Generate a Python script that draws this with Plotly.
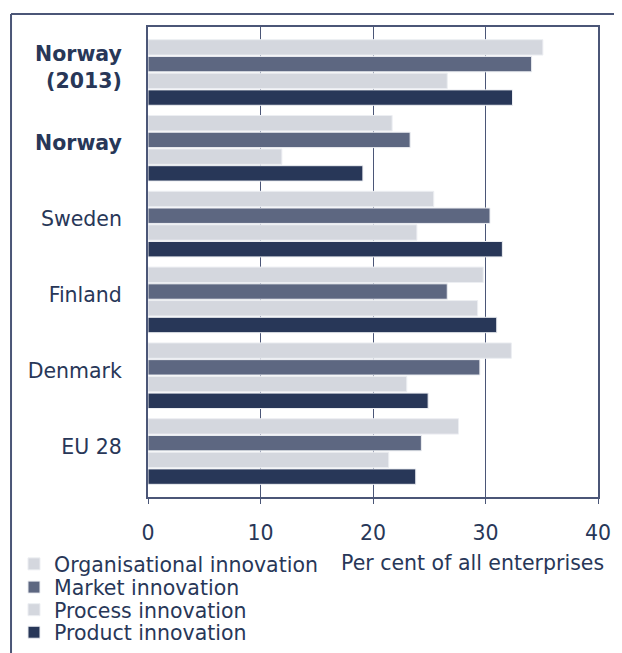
import plotly.graph_objects as go

# landen / groepen, van boven naar beneden
landen = ["<b>Norway<br>(2013)</b>", "<b>Norway</b>", "Sweden", "Finland", "Denmark", "EU 28"]

organisational = [35.1, 21.7, 25.4, 29.8, 32.3, 27.6]
market = [34.1, 23.3, 30.4, 26.6, 29.5, 24.3]
process = [26.6, 11.9, 23.9, 29.3, 23.0, 21.4]
product = [32.4, 19.1, 31.5, 31.0, 24.9, 23.8]

x_ticks = [0, 10, 20, 30, 40]

DONKER = '#283758'
LIJN = '#4b5677'
FONT = 'DejaVu Sans'
FSIZE = 20.5

fig = go.Figure()

series = [
    ('Organisational innovation', organisational, '#d4d7de', 'legend'),
    ('Market innovation', market, '#5d6781', 'legend2'),
    ('Process innovation', process, '#d4d7de', 'legend3'),
    ('Product innovation', product, DONKER, 'legend4'),
]

for naam, waarden, kleur, leg in series:
    fig.add_trace(
        go.Bar(
            y=landen,
            x=waarden,
            orientation='h',
            name=naam,
            legend=leg,
            marker=dict(color=kleur, line=dict(color='#eceef2', width=1)),
        )
    )

# elke legenda-regel apart, zodat de regelafstand klopt
leg_x = -0.2978
leg_y = [-0.1426, -0.1921, -0.2401, -0.2881]
leg_style = dict(
    x=leg_x, xanchor='left', yanchor='middle',
    font=dict(size=FSIZE, color=DONKER, family=FONT),
    bgcolor='rgba(0,0,0,0)', borderwidth=0, itemwidth=30,
)

fig.update_layout(
    width=622,
    height=653,
    barmode='group',
    bargap=0.117,
    bargroupgap=0.08,
    plot_bgcolor='white',
    paper_bgcolor='white',
    font=dict(family=FONT, size=FSIZE, color=DONKER),
    margin=dict(t=19, r=32, b=164, l=140, autoexpand=False),
    showlegend=True,
    legend=dict(y=leg_y[0], **leg_style),
    legend2=dict(y=leg_y[1], **leg_style),
    legend3=dict(y=leg_y[2], **leg_style),
    legend4=dict(y=leg_y[3], **leg_style),
)

fig.update_xaxes(
    range=[0, 40],
    tickvals=x_ticks,
    showgrid=True,
    gridcolor=LIJN,
    gridwidth=1.2,
    showline=True,
    linecolor=LIJN,
    linewidth=2,
    mirror=True,
    ticks='outside',
    ticklen=5,
    tickcolor=LIJN,
    ticklabelstandoff=11,
    zeroline=False,
)

fig.update_yaxes(
    range=[5.6, -0.6],
    showline=True,
    linecolor=LIJN,
    linewidth=2,
    mirror=True,
    ticks='',
    ticklabelstandoff=20,
    ticklabelshift=5,
    showgrid=False,
)

# astitel rechts onder
fig.add_annotation(
    text='Per cent of all enterprises',
    xref='paper', yref='paper',
    x=1.0178, y=-0.1395,
    xanchor='right', yanchor='middle',
    showarrow=False,
    font=dict(size=FSIZE, color=DONKER),
)

# buitenkader (boven- en linkerlijn)
fig.add_shape(type='line', xref='paper', yref='paper',
              x0=-0.3044, x1=1.1, y0=1.0277, y1=1.0277,
              line=dict(color=LIJN, width=2))
fig.add_shape(type='line', xref='paper', yref='paper',
              x0=-0.3044, x1=-0.3044, y0=1.0277, y1=-0.4,
              line=dict(color=LIJN, width=2))

fig.write_html("out.html")
